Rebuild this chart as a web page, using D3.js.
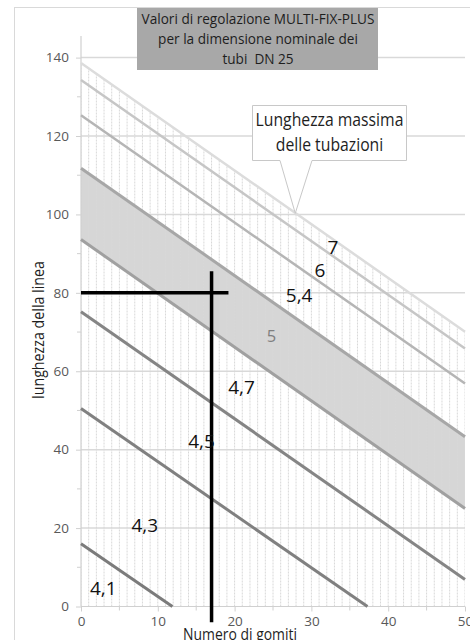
<!DOCTYPE html>
<html>
<head>
<meta charset="utf-8">
<script src="https://cdn.jsdelivr.net/npm/d3@7"></script>
<style>
  html, body { margin: 0; padding: 0; background: #fff; }
  svg { display: block; }
  text { font-family: "Open Sans", "Noto Sans", sans-serif; }
</style>
</head>
<body>
<svg id="chart" width="470" height="640"></svg>
<script>
// ---- data ----
const xTickValues = [0, 10, 20, 30, 40, 50];
const xMinorTicks = [5, 15, 25, 35, 45];
const yTickValues = [0, 20, 40, 60, 80, 100, 120, 140];
const yMinorTicks = [10, 30, 50, 70, 90, 110, 130];
const hatchX = d3.range(0, 51, 1); // every "Numero di gomiti" unit

// boundary lines between setting zones (value at x=0, and end point)
const boundaryStartY = [138.6, 134.3, 125.3, 111.8, 93.6, 75.2, 50.5, 16.0];
const boundaryEndX   = [50, 50, 50, 50, 50, 50, 37.3, 11.9];
const boundaryEndY   = [70.1, 65.8, 56.9, 43.3, 25.0, 6.9, 0, 0];
const boundaryColor  = ["#dcdcdc", "#c6c6c6", "#b5b5b5", "#a7a7a7", "#a0a0a0", "#858585", "#808080", "#7b7b7b"];

// zone labels (anchored in chart units)
const zoneLabels = ["7", "6", "5,4", "5", "4,7", "4,5", "4,3", "4,1"];
const zoneLabelX = [32.8, 31.1, 28.4, 24.8, 20.9, 15.7, 8.3, 2.9];
const zoneLabelY = [91.8, 85.8, 79.4, 69.0, 55.9, 42.1, 20.9, 4.7];

// example reading
const readX = 17, readY = 80;
const readHRange = [0, 19.2];
const readVRange = [-4, 85.5];

const titleLines = ["Valori di regolazione MULTI-FIX-PLUS", "per la dimensione nominale dei", "tubi  DN 25"];
const calloutLines = ["Lunghezza massima", "delle tubazioni"];
const calloutTip = [27.9, 100.3];
const xTitle = "Numero di gomiti";
const yTitle = "lunghezza della linea";

// ---- layout ----
const svg = d3.select("#chart");
const x = d3.scaleLinear().domain([0, 50]).range([81, 465]);
const y = d3.scaleLinear().domain([0, 140]).range([606.5, 57.6]);

// outer chart border
svg.append("rect").attr("x", 14.5).attr("y", 7.5).attr("width", 520).attr("height", 700)
  .attr("fill", "#fff").attr("stroke", "#d9d9d9").attr("stroke-width", 1);

// horizontal gridlines
svg.append("g").selectAll("line").data(yTickValues.filter(d => d > 0)).join("line")
  .attr("x1", x(0)).attr("x2", x(50)).attr("y1", d => y(d)).attr("y2", d => y(d))
  .attr("stroke", "#d9d9d9").attr("stroke-width", 1.5);

const lines = boundaryStartY.map((s, i) => [[0, s], [boundaryEndX[i], boundaryEndY[i]]]);
const lineGen = d3.line().x(d => x(d[0])).y(d => y(d[1]));

// band (zone 5) fill
const band = [...lines[3], ...lines[4].slice().reverse()];
svg.append("path").attr("d", lineGen(band) + "Z").attr("fill", "#d6d6d6");

// clip: area under top boundary
const topArea = [[0, 0], ...lines[0], [50, 0]];
svg.append("clipPath").attr("id", "under").append("path").attr("d", lineGen(topArea) + "Z");

// hatch vertical lines
svg.append("g").attr("clip-path", "url(#under)").selectAll("line").data(hatchX).join("line")
  .attr("x1", d => x(d)).attr("x2", d => x(d)).attr("y1", y(0)).attr("y2", y(140))
  .attr("stroke", "#d8d8d8").attr("stroke-width", 1).attr("stroke-dasharray", "2,1");

// axes
const axisColor = "#d0d0d0";
svg.append("line").attr("x1", x(0)).attr("x2", x(0)).attr("y1", y(0)).attr("y2", y(145.5))
  .attr("stroke", axisColor).attr("stroke-width", 1.2);
svg.append("line").attr("x1", x(0)).attr("x2", x(50)).attr("y1", y(0)).attr("y2", y(0))
  .attr("stroke", axisColor).attr("stroke-width", 1.2);

const yAxis = d3.axisLeft(y).tickValues(yTickValues).tickSize(5).tickPadding(7).tickFormat(d3.format("d"));
const gy = svg.append("g").attr("transform", `translate(${x(0)},0)`).call(yAxis);
gy.select(".domain").remove();
gy.selectAll(".tick line").attr("stroke", axisColor);
gy.selectAll(".tick text").attr("fill", "#595959").style("font-size", "13.5px").style("font-family", "'Open Sans', sans-serif");
svg.append("g").selectAll("line").data(yMinorTicks).join("line")
  .attr("x1", x(0) - 4).attr("x2", x(0)).attr("y1", d => y(d)).attr("y2", d => y(d))
  .attr("stroke", axisColor);

const xAxis = d3.axisBottom(x).tickValues(xTickValues).tickSize(5).tickPadding(5).tickFormat(d3.format("d"));
const gx = svg.append("g").attr("transform", `translate(0,${y(0)})`).call(xAxis);
gx.select(".domain").remove();
gx.selectAll(".tick line").attr("stroke", axisColor);
gx.selectAll(".tick text").attr("fill", "#595959").style("font-size", "13.5px").style("font-family", "'Open Sans', sans-serif");
svg.append("g").selectAll("line").data(xMinorTicks).join("line")
  .attr("x1", d => x(d)).attr("x2", d => x(d)).attr("y1", y(0)).attr("y2", y(0) + 4)
  .attr("stroke", axisColor);

// boundary lines
svg.append("g").selectAll("path").data(lines).join("path")
  .attr("d", lineGen).attr("fill", "none")
  .attr("stroke", (d, i) => boundaryColor[i]).attr("stroke-width", (d, i) => i < 3 ? 2.5 : 3);

// reading cross
svg.append("line").attr("x1", x(readHRange[0])).attr("x2", x(readHRange[1]))
  .attr("y1", y(readY)).attr("y2", y(readY)).attr("stroke", "#000").attr("stroke-width", 3.5);
svg.append("line").attr("x1", x(readX)).attr("x2", x(readX))
  .attr("y1", y(readVRange[0])).attr("y2", y(readVRange[1])).attr("stroke", "#000").attr("stroke-width", 3.5);

// zone labels
svg.append("g").selectAll("text").data(zoneLabels).join("text")
  .attr("x", (d, i) => x(zoneLabelX[i])).attr("y", (d, i) => y(zoneLabelY[i]))
  .attr("text-anchor", "middle").attr("dominant-baseline", "central")
  .attr("fill", d => d === "5" ? "#7f7f7f" : "#111")
  .style("font-size", d => d === "5" ? "16.5px" : "19px")
  .text(d => d);

// title box
svg.append("rect").attr("x", 137).attr("y", 8).attr("width", 241).attr("height", 62).attr("fill", "#a8a8a8");
const tg = svg.append("g");
const tInner = tg.append("g");
tInner.selectAll("text").data(titleLines).join("text")
  .attr("x", 0).attr("y", (d, i) => i * 20).attr("text-anchor", "middle")
  .attr("xml:space", "preserve").style("white-space", "pre")
  .attr("fill", "#1e1e1e").style("font-size", "14.5px").text(d => d);
const tw = tInner.select("text").node().getComputedTextLength();
tg.attr("transform", `translate(258,24) scale(${233 / tw},1)`);

// callout
const tipX = x(calloutTip[0]), tipY = y(calloutTip[1]);
svg.append("path")
  .attr("d", `M252.5,105.5 H406.5 V160.5 H312 L${tipX},${tipY} L280,160.5 H252.5 Z`)
  .attr("fill", "#fff").attr("stroke", "#c8c8c8").attr("stroke-width", 1);
const cg = svg.append("g");
const cInner = cg.append("g");
cInner.selectAll("text").data(calloutLines).join("text")
  .attr("x", 0).attr("y", (d, i) => i * 25).attr("text-anchor", "middle")
  .attr("fill", "#1e1e1e").style("font-size", "17.5px").text(d => d);
const cw = cInner.select("text").node().getComputedTextLength();
cg.attr("transform", `translate(329.5,126) scale(${148 / cw},1)`);

// axis titles
const yt = svg.append("text").attr("text-anchor", "middle").attr("fill", "#1e1e1e")
  .style("font-size", "16px").text(yTitle);
const ytw = yt.node().getComputedTextLength();
yt.attr("transform", `translate(44,330) rotate(-90) scale(${138 / ytw},1)`);

const xt = svg.append("text").attr("text-anchor", "middle").attr("fill", "#1e1e1e")
  .style("font-size", "16px").text(xTitle);
const xtw = xt.node().getComputedTextLength();
xt.attr("transform", `translate(240,640) scale(${114 / xtw},1)`);
</script>
</body>
</html>
